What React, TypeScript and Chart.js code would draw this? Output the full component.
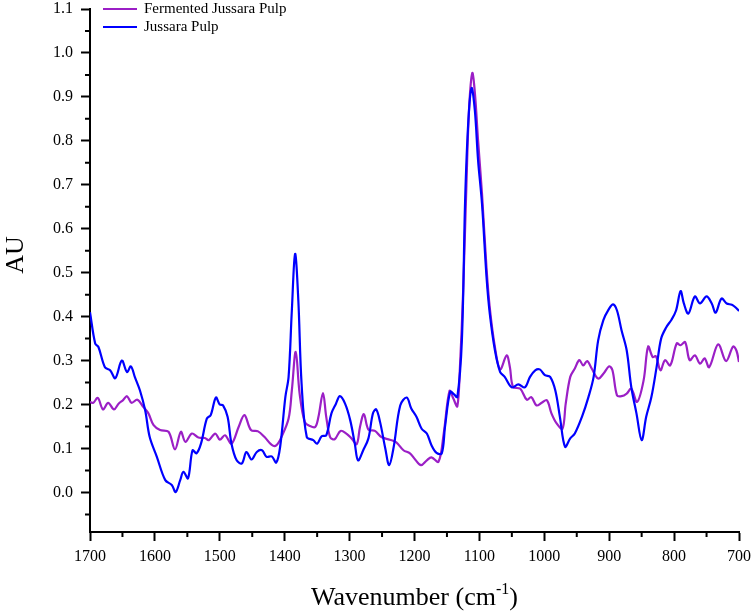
import React, { useEffect, useRef } from "react";
import { Chart, registerables } from "chart.js";

Chart.register(...registerables);

const FONT = '"Liberation Serif", "Times New Roman", serif';

// Jussara Pulp (blue)
const pulpWavenumbers = [
  1700, 1692, 1687, 1677, 1669, 1661, 1651, 1643, 1637, 1631, 1623, 1615, 1608, 1597, 1584, 1574, 1568,
  1561, 1556, 1549, 1542, 1536, 1529, 1520, 1514, 1506, 1500, 1495, 1488, 1482, 1474, 1466, 1459, 1451,
  1443, 1435, 1428, 1420, 1413, 1407, 1399, 1394, 1389, 1384, 1379, 1374, 1366, 1356, 1350, 1343, 1336,
  1328, 1321, 1315, 1307, 1299, 1292, 1287, 1279, 1271, 1264, 1259, 1253, 1245, 1239, 1232, 1222, 1212,
  1205, 1197, 1189, 1181, 1174, 1166, 1158, 1153, 1145, 1139, 1134, 1127, 1122, 1117, 1112, 1107, 1102,
  1096, 1089, 1084, 1076, 1068, 1061, 1050, 1040, 1030, 1022, 1014, 1007, 999, 991, 983, 976, 968, 960,
  953, 942, 932, 924, 917, 909, 901, 894, 888, 881, 873, 866, 858, 850, 843, 835, 827, 820, 812, 804, 797,
  790, 785, 778, 768, 760, 750, 742, 736, 727, 719, 711, 706, 700,
];
const pulpAu = [
  0.41, 0.339, 0.331, 0.285, 0.278, 0.26, 0.3, 0.274, 0.287, 0.263, 0.232, 0.187, 0.126, 0.081, 0.028, 0.017,
  0.001, 0.028, 0.047, 0.032, 0.096, 0.089, 0.111, 0.168, 0.176, 0.216, 0.2, 0.198, 0.172, 0.111, 0.073, 0.066,
  0.092, 0.075, 0.092, 0.096, 0.081, 0.082, 0.068, 0.104, 0.217, 0.263, 0.414, 0.543, 0.437, 0.248, 0.126,
  0.119, 0.111, 0.128, 0.13, 0.18, 0.202, 0.219, 0.202, 0.164, 0.111, 0.073, 0.096, 0.123, 0.18, 0.189, 0.16,
  0.1, 0.062, 0.104, 0.198, 0.216, 0.191, 0.172, 0.145, 0.134, 0.108, 0.09, 0.089, 0.149, 0.229, 0.223, 0.217,
  0.346, 0.664, 0.846, 0.92, 0.869, 0.755, 0.657, 0.49, 0.407, 0.323, 0.274, 0.263, 0.239, 0.246, 0.239, 0.263,
  0.278, 0.28, 0.267, 0.263, 0.232, 0.172, 0.104, 0.123, 0.134, 0.172, 0.217, 0.263, 0.346, 0.392, 0.416, 0.428,
  0.414, 0.369, 0.323, 0.24, 0.18, 0.119, 0.172, 0.217, 0.285, 0.35, 0.376, 0.393, 0.414, 0.458, 0.43, 0.407,
  0.446, 0.43, 0.446, 0.43, 0.409, 0.441, 0.43, 0.427, 0.422, 0.413,
];

// Fermented Jussara Pulp (purple)
const fermentedWavenumbers = [
  1700, 1695, 1688, 1680, 1672, 1663, 1656, 1649, 1643, 1636, 1627, 1618, 1610, 1602, 1592, 1579, 1569,
  1560, 1553, 1543, 1533, 1523, 1517, 1507, 1500, 1492, 1482, 1471, 1462, 1452, 1441, 1431, 1420, 1413,
  1405, 1394, 1389, 1383, 1377, 1369, 1361, 1353, 1348, 1341, 1336, 1330, 1323, 1314, 1305, 1297, 1289,
  1284, 1278, 1271, 1261, 1251, 1238, 1228, 1217, 1207, 1199, 1190, 1181, 1174, 1163, 1155, 1146, 1140,
  1134, 1130, 1125, 1120, 1116, 1111, 1107, 1102, 1096, 1089, 1084, 1076, 1068, 1058, 1053, 1048, 1037,
  1027, 1020, 1012, 1004, 996, 989, 981, 972, 967, 960, 953, 946, 940, 934, 927, 917, 909, 900, 895, 888,
  881, 873, 866, 857, 847, 840, 833, 828, 821, 814, 806, 796, 790, 783, 776, 768, 760, 753, 746, 732, 720,
  709, 704, 700,
];
const fermentedAu = [
  0.206, 0.204, 0.215, 0.189, 0.204, 0.189, 0.202, 0.21, 0.219, 0.204, 0.211, 0.195, 0.18, 0.153, 0.142, 0.138,
  0.098, 0.138, 0.115, 0.134, 0.125, 0.124, 0.119, 0.134, 0.12, 0.13, 0.111, 0.149, 0.176, 0.142, 0.139, 0.126,
  0.108, 0.107, 0.126, 0.168, 0.232, 0.32, 0.225, 0.16, 0.151, 0.149, 0.172, 0.226, 0.172, 0.126, 0.121, 0.14,
  0.134, 0.123, 0.11, 0.149, 0.178, 0.143, 0.14, 0.126, 0.12, 0.114, 0.096, 0.089, 0.075, 0.062, 0.073, 0.08,
  0.07, 0.134, 0.231, 0.213, 0.196, 0.285, 0.46, 0.7, 0.87, 0.954, 0.91, 0.8, 0.68, 0.51, 0.42, 0.33, 0.28,
  0.312, 0.285, 0.24, 0.236, 0.211, 0.217, 0.198, 0.204, 0.21, 0.18, 0.157, 0.145, 0.202, 0.263, 0.282, 0.301,
  0.289, 0.299, 0.282, 0.259, 0.27, 0.287, 0.278, 0.221, 0.219, 0.225, 0.236, 0.206, 0.255, 0.332, 0.308, 0.31,
  0.278, 0.301, 0.289, 0.339, 0.335, 0.342, 0.301, 0.312, 0.293, 0.305, 0.285, 0.337, 0.299, 0.332, 0.323, 0.297,
];

const xMajorTicks = [1700, 1600, 1500, 1400, 1300, 1200, 1100, 1000, 900, 800, 700];
const yMajorTicks = [0, 0.1, 0.2, 0.3, 0.4, 0.5, 0.6, 0.7, 0.8, 0.9, 1.0, 1.1];
const xMinorTicks = xMajorTicks.slice(1).map((v) => v + 50);
const yMinorTicks = yMajorTicks.map((v) => v - 0.05);

const seriesLabels = ["Fermented Jussara Pulp", "Jussara Pulp"];
const seriesColors = ["#9b1fc6", "#0000ff"];

const toPoints = (xs: number[], ys: number[]) => xs.map((x, i) => ({ x, y: ys[i] }));

const decorPlugin = {
  id: "decor",
  afterDraw(chart: any) {
    const { ctx, chartArea, scales } = chart;
    const xs = scales.x;
    const ys = scales.y;
    ctx.save();
    ctx.strokeStyle = "#000";
    ctx.lineWidth = 2;
    ctx.beginPath();
    xMinorTicks.forEach((v) => {
      const px = xs.getPixelForValue(v);
      ctx.moveTo(px, chartArea.bottom);
      ctx.lineTo(px, chartArea.bottom + 5);
    });
    yMinorTicks.forEach((v) => {
      const py = ys.getPixelForValue(v);
      ctx.moveTo(chartArea.left - 5, py);
      ctx.lineTo(chartArea.left, py);
    });
    ctx.stroke();

    // legend
    ctx.font = `15px ${FONT}`;
    ctx.textBaseline = "middle";
    ctx.fillStyle = "#000";
    seriesLabels.forEach((label, i) => {
      const yy = 9 + i * 18;
      ctx.strokeStyle = seriesColors[i];
      ctx.lineWidth = 2;
      ctx.beginPath();
      ctx.moveTo(103, yy);
      ctx.lineTo(137, yy);
      ctx.stroke();
      ctx.fillText(label, 144, yy);
    });

    // axis titles
    ctx.fillStyle = "#000";
    ctx.textBaseline = "alphabetic";
    ctx.font = `26px ${FONT}`;
    const main = "Wavenumber (cm";
    const close = ")";
    const wMain = ctx.measureText(main).width;
    const wClose = ctx.measureText(close).width;
    ctx.font = `16px ${FONT}`;
    const sup = "-1";
    const wSup = ctx.measureText(sup).width;
    const total = wMain + wSup + wClose;
    const cx = (chartArea.left + chartArea.right) / 2;
    let tx = cx - total / 2;
    const base = 605;
    ctx.font = `26px ${FONT}`;
    ctx.textAlign = "left";
    ctx.fillText(main, tx, base);
    tx += wMain;
    ctx.font = `16px ${FONT}`;
    ctx.fillText(sup, tx, base - 11);
    tx += wSup;
    ctx.font = `26px ${FONT}`;
    ctx.fillText(close, tx, base);

    ctx.translate(23, 255);
    ctx.rotate(-Math.PI / 2);
    ctx.textAlign = "center";
    ctx.fillText("AU", 0, 0);
    ctx.restore();
  },
};

export default function App() {
  const canvasRef = useRef<HTMLCanvasElement | null>(null);
  const chartRef = useRef<Chart | null>(null);

  useEffect(() => {
    document.body.style.margin = "0";
    if (!canvasRef.current) return;
    if (chartRef.current) chartRef.current.destroy();

    chartRef.current = new Chart(canvasRef.current, {
      type: "line",
      data: {
        datasets: [
          {
            label: seriesLabels[0],
            data: toPoints(fermentedWavenumbers, fermentedAu),
            borderColor: seriesColors[0],
            borderWidth: 2.2,
            pointRadius: 0,
            tension: 0.35,
            fill: false,
            order: 2,
          },
          {
            label: seriesLabels[1],
            data: toPoints(pulpWavenumbers, pulpAu),
            borderColor: seriesColors[1],
            borderWidth: 2.2,
            pointRadius: 0,
            tension: 0.35,
            fill: false,
            order: 1,
          },
        ],
      },
      options: {
        animation: false,
        responsive: false,
        maintainAspectRatio: false,
        parsing: false,
        layout: { padding: { left: 0, right: 15, top: 9, bottom: 0 } },
        plugins: {
          legend: { display: false },
          tooltip: { enabled: false },
        },
        scales: {
          x: {
            type: "linear",
            reverse: true,
            min: 700,
            max: 1700,
            afterBuildTicks: (scale: any) => {
              scale.ticks = xMajorTicks.map((value) => ({ value }));
            },
            afterFit: (scale: any) => {
              scale.height = 81;
              scale.paddingLeft = 0;
              scale.paddingRight = 0;
            },
            ticks: {
              autoSkip: false,
              maxRotation: 0,
              padding: 6,
              color: "#000",
              font: { family: FONT, size: 16 },
              callback: (v: any) => String(v),
            },
            grid: {
              drawOnChartArea: false,
              drawTicks: true,
              tickLength: 9,
              tickWidth: 2,
              tickColor: "#000",
            },
            border: { display: true, color: "#000", width: 2 },
          },
          y: {
            type: "linear",
            min: -0.09,
            max: 1.1,
            afterBuildTicks: (scale: any) => {
              scale.ticks = yMajorTicks.map((value) => ({ value }));
            },
            afterFit: (scale: any) => {
              scale.width = 90;
              scale.paddingTop = 0;
              scale.paddingBottom = 0;
            },
            ticks: {
              autoSkip: false,
              padding: 8,
              color: "#000",
              font: { family: FONT, size: 16 },
              callback: (v: any) => Number(v).toFixed(1),
            },
            grid: {
              drawOnChartArea: false,
              drawTicks: true,
              tickLength: 9,
              tickWidth: 2,
              tickColor: "#000",
            },
            border: { display: true, color: "#000", width: 2 },
          },
        },
      },
      plugins: [decorPlugin],
    });

    return () => {
      if (chartRef.current) {
        chartRef.current.destroy();
        chartRef.current = null;
      }
    };
  }, []);

  return (
    <div style={{ width: "754px", height: "613px", background: "#fff" }}>
      <canvas ref={canvasRef} width={754} height={613} />
    </div>
  );
}
